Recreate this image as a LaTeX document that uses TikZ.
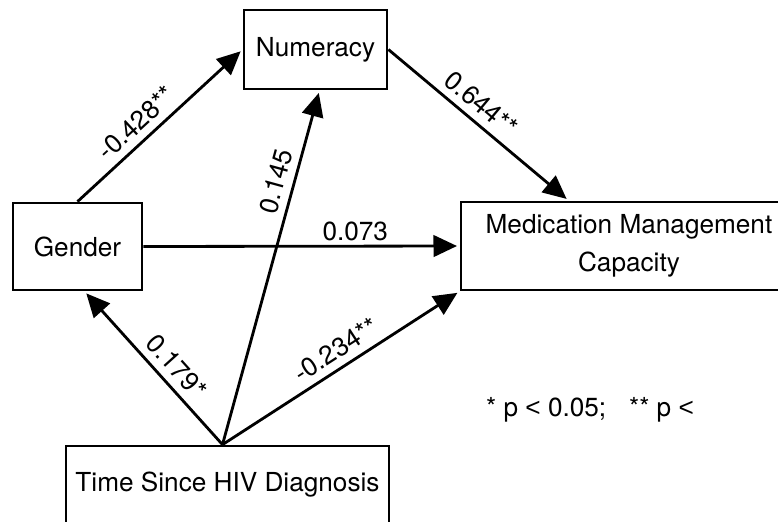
\documentclass[tikz,border=0pt]{standalone}
\usepackage{fontspec}
\setmainfont{TeX Gyre Heros}
\newfontfamily\relfont{Liberation Sans}
\newcommand{\lessthan}{{\relfont <}}
\usetikzlibrary{arrows.meta,calc}

\begin{document}
\begin{tikzpicture}[x=0.02cm,y=-0.02cm,
        font=\fontsize{14.9pt}{21.5pt}\selectfont,
        var/.style={draw, line width=1.6pt, align=center, inner sep=0pt},
        link/.style={-{Triangle[length=0.47cm,width=0.43cm]}, line width=1.6pt, shorten >=1.5pt},
        coef/.style={sloped, above, inner sep=4pt}]
        \useasboundingbox (0,0) rectangle (778,521);
        \clip (0,0) rectangle (778,521);
        \node[var, minimum width=2.86cm, minimum height=1.58cm] (numeracy) at (315.5,49.5) {Numeracy};
        \node[var, minimum width=2.58cm, minimum height=1.74cm] (gender) at (77.5,246.5) {Gender};
        \node[var, minimum width=6.72cm, minimum height=1.76cm] (med) at (629,246) {Medication Management\\Capacity};
        \node[var, minimum width=6.46cm, minimum height=1.8cm, text height=12pt, text depth=12pt] (time) at (227.5,491) {Time Since HIV Diagnosis};
        \node (note) at (590,410) {* p \lessthan{} 0.05;\hspace{13pt}** p \lessthan};
        \coordinate (hub) at ($(time.north)+(-5,0)$);
        \draw[link] (gender.north) -- (numeracy.west) node[coef, pos=0.43] {-0.428**};
        \draw[link] (numeracy.east) -- ($(med.north west)+(109,0)$) node[coef, pos=0.45] {0.644**};
        \draw[link] (gender.east) -- (med.west) node[above, inner sep=2pt, pos=0.67] {0.073};
        \draw[link] (hub) -- ($(gender.south)+(7,0)$) node[coef, pos=0.43] {0.179*};
        \draw[link] (hub) -- ($(numeracy.south)+(4,0)$) node[coef, pos=0.73] {0.145};
        \draw[link] (hub) -- (med.south west) node[coef, pos=0.52] {-0.234**};
    \end{tikzpicture}
\end{document}
